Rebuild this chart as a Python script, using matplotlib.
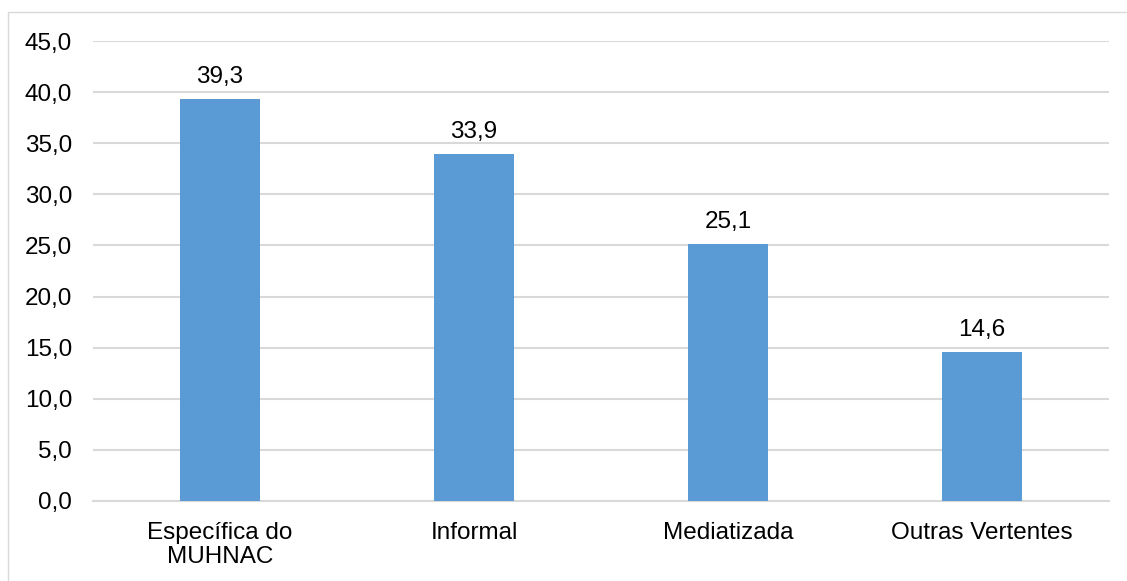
import matplotlib

matplotlib.use("Agg")

import matplotlib.pyplot as plt
from matplotlib.patches import Rectangle
from matplotlib.ticker import FuncFormatter, MultipleLocator

categories = ["Específica do\nMUHNAC", "Informal", "Mediatizada", "Outras Vertentes"]
values = [39.3, 33.9, 25.1, 14.6]

BAR_COLOR = "#5B9BD5"
GRID_COLOR = "#D9D9D9"
TEXT_COLOR = "#000000"


def pt_comma(value, _pos=None):
    return f"{value:.1f}".replace(".", ",")


plt.rcParams["font.family"] = ["Liberation Sans", "DejaVu Sans"]
plt.rcParams["font.size"] = 17.5

fig = plt.figure(figsize=(11.27, 5.81), dpi=100)
ax = fig.add_axes([0.0825, 0.1377, 0.9015, 0.7917])

positions = range(len(categories))
bars = ax.bar(positions, values, width=0.315, color=BAR_COLOR, zorder=3)

for bar, value in zip(bars, values):
    ax.annotate(
        pt_comma(value),
        xy=(bar.get_x() + bar.get_width() / 2, value),
        xytext=(0, 8),
        textcoords="offset points",
        ha="center",
        va="bottom",
        color=TEXT_COLOR,
    )

ax.set_xlim(-0.5, len(categories) - 0.5)
ax.set_ylim(0, 45)
ax.yaxis.set_major_locator(MultipleLocator(5))
ax.yaxis.set_major_formatter(FuncFormatter(pt_comma))
ax.set_xticks(list(positions))
ax.set_xticklabels(categories, linespacing=1.15)

ax.grid(axis="y", color=GRID_COLOR, linewidth=1.5, zorder=0)
for side in ("top", "right", "left"):
    ax.spines[side].set_visible(False)
ax.spines["bottom"].set_color(GRID_COLOR)
ax.spines["bottom"].set_linewidth(1.5)
ax.tick_params(axis="both", length=0, colors=TEXT_COLOR)
ax.tick_params(axis="y", pad=15)
ax.tick_params(axis="x", pad=15)

# light frame around the chart area
fig.patches.append(
    Rectangle(
        (8 / 1127, -0.05),
        1.2,
        1 - 12 / 581 + 0.05,
        transform=fig.transFigure,
        fill=False,
        edgecolor=GRID_COLOR,
        linewidth=1.0,
    )
)

fig.savefig("out.png", dpi=100)
plt.close(fig)
